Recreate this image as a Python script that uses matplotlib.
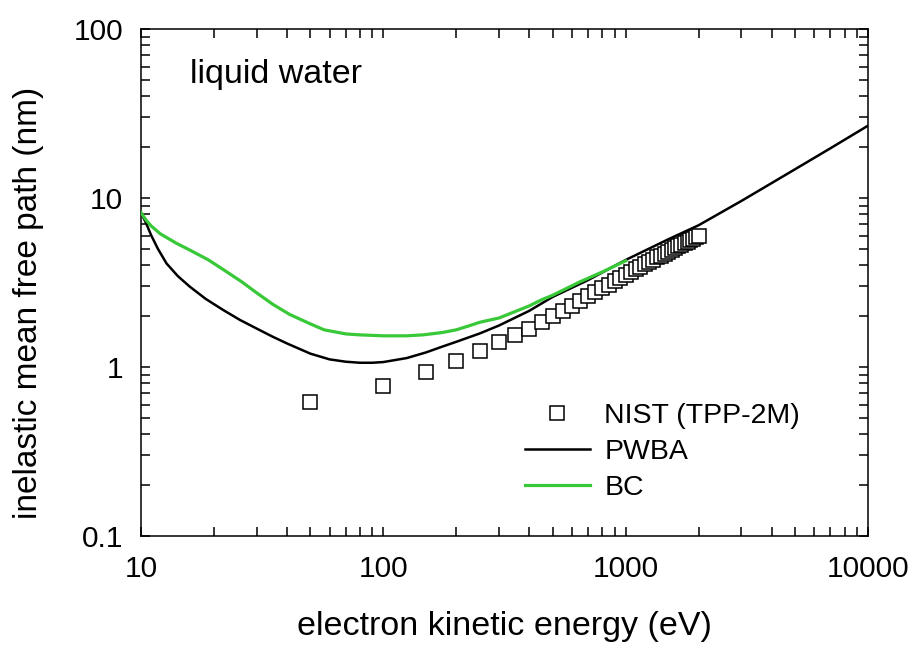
import numpy as np
import matplotlib
matplotlib.use("Agg")
import matplotlib.pyplot as plt
from matplotlib.ticker import LogLocator, FuncFormatter, NullFormatter

# NIST TPP-2M points (eV, nm)
nist_e = [50, 100, 150, 200, 250, 300, 350, 400, 450, 500,
          550, 600, 650, 700, 750, 800, 850, 900, 950, 1000,
          1050, 1100, 1150, 1200, 1250, 1300, 1350, 1400, 1450, 1500,
          1550, 1600, 1650, 1700, 1750, 1800, 1850, 1900, 1950, 2000]
nist_imfp = [0.62, 0.77, 0.93, 1.08, 1.24, 1.40, 1.55, 1.69, 1.84, 2.00,
             2.15, 2.31, 2.46, 2.62, 2.77, 2.92, 3.07, 3.22, 3.37, 3.52,
             3.66, 3.80, 3.93, 4.06, 4.19, 4.32, 4.45, 4.57, 4.69, 4.81,
             4.93, 5.05, 5.17, 5.29, 5.41, 5.52, 5.64, 5.75, 5.86, 5.97]

# PWBA curve
pwba_e = [10, 10.5, 11, 11.75, 12.75, 14.2, 15.9, 18.5, 21.9, 25.6, 30, 35, 40,
          50, 60, 70, 80, 90, 100, 125, 150, 175, 200, 250, 300, 400, 500, 700,
          1000, 1500, 2000, 3000, 5000, 7000, 10000]
pwba_imfp = [8.2, 7.1, 6.05, 5.0, 4.1, 3.45, 2.99, 2.53, 2.17, 1.90, 1.69, 1.51,
             1.38, 1.20, 1.11, 1.075, 1.06, 1.06, 1.07, 1.13, 1.22, 1.32, 1.41,
             1.58, 1.76, 2.15, 2.6, 3.27, 4.3, 5.7, 6.9, 9.6, 14.8, 19.7, 26.8]

# BC curve
bc_e = [10, 10.5, 11, 12, 14, 16, 19, 22, 26, 30, 35, 41, 50, 57, 70, 80, 100,
        125, 146, 175, 200, 225, 250, 300, 350, 400, 450, 500, 650, 800, 1000]
bc_imfp = [8.2, 7.4, 6.85, 6.15, 5.4, 4.9, 4.3, 3.75, 3.2, 2.75, 2.35, 2.05, 1.8,
           1.66, 1.57, 1.55, 1.53, 1.53, 1.55, 1.60, 1.66, 1.75, 1.84, 1.95,
           2.13, 2.3, 2.5, 2.66, 3.2, 3.65, 4.25]

GREEN = "#38c838"


def main():
    plt.rcParams["font.family"] = ["Liberation Sans", "DejaVu Sans"]
    fig = plt.figure(figsize=(9.13, 6.48), dpi=100)
    ax = fig.add_axes([0.1544, 0.1728, 0.7963, 0.7824])

    ax.plot(nist_e, nist_imfp, "s", ms=10.5, mfc="white", mec="black", mew=1.1,
            label="NIST (TPP-2M)", zorder=2)
    ax.plot(pwba_e, pwba_imfp, "-", color="black", lw=1.8, label="PWBA", zorder=3)
    ax.plot(bc_e, bc_imfp, "-", color=GREEN, lw=2.3, label="BC", zorder=3)

    ax.set_xscale("log"); ax.set_yscale("log")
    ax.set_xlim(10, 10000); ax.set_ylim(0.1, 100)
    ax.xaxis.set_minor_locator(LogLocator(base=10, subs=np.arange(2, 10)))
    ax.yaxis.set_minor_locator(LogLocator(base=10, subs=np.arange(2, 10)))
    fmt = FuncFormatter(lambda v, p: "%g" % v)
    ax.xaxis.set_major_formatter(fmt); ax.yaxis.set_major_formatter(fmt)
    ax.xaxis.set_minor_formatter(NullFormatter()); ax.yaxis.set_minor_formatter(NullFormatter())
    ax.tick_params(which="both", direction="in", top=True, right=True,
                   length=6.5, width=1.1, labelsize=21.5)
    ax.tick_params(axis="x", which="major", pad=14)
    ax.tick_params(axis="y", which="major", pad=13)
    for s in ax.spines.values():
        s.set_linewidth(1.1)

    ax.set_xlabel("electron kinetic energy (eV)", fontsize=24.5, labelpad=20)
    ax.set_ylabel("inelastic mean free path (nm)", fontsize=24)
    ax.yaxis.set_label_coords(-0.133, 0.46)
    ax.text(0.0674, 0.94, "liquid water", transform=ax.transAxes,
            fontsize=24.5, va="top", ha="left")

    ax.legend(loc="upper left", bbox_to_anchor=(0.512, 0.284), frameon=False,
              fontsize=20.5, handlelength=2.3, handletextpad=0.5,
              labelspacing=0.35, borderaxespad=0)

    fig.savefig("out.png", dpi=100)
    plt.close(fig)


if __name__ == "__main__":
    main()
